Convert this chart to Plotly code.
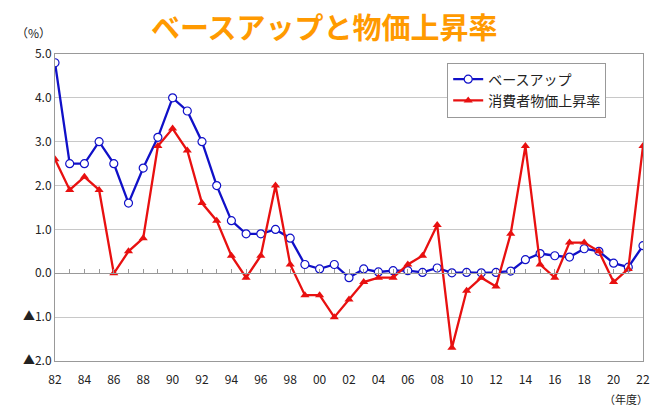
import plotly.graph_objects as go

years = list(range(1982, 2023))
base_up = [4.8, 2.5, 2.5, 3.0, 2.5, 1.6, 2.4, 3.1, 4.0, 3.7,
           3.0, 2.0, 1.2, 0.9, 0.9, 1.0, 0.8, 0.2, 0.1, 0.2,
           -0.1, 0.1, 0.03, 0.06, 0.06, 0.02, 0.12, 0.01, 0.02, 0.01,
           0.02, 0.05, 0.31, 0.45, 0.40, 0.37, 0.56, 0.50, 0.23, 0.14,
           0.63]
cpi = [2.6, 1.9, 2.2, 1.9, 0.0, 0.5, 0.8, 2.9, 3.3, 2.8,
       1.6, 1.2, 0.4, -0.1, 0.4, 2.0, 0.2, -0.5, -0.5, -1.0,
       -0.6, -0.2, -0.1, -0.1, 0.2, 0.4, 1.1, -1.7, -0.4, -0.1,
       -0.3, 0.9, 2.9, 0.2, -0.1, 0.7, 0.7, 0.5, -0.2, 0.1,
       2.9]
x_tickvals = list(range(1982, 2023, 2))
x_ticktext = ["82", "84", "86", "88", "90", "92", "94", "96", "98", "00", "02",
              "04", "06", "08", "10", "12", "14", "16", "18", "20", "22"]
y_tickvals = [5, 4, 3, 2, 1, 0, -1, -2]
y_ticktext = ["5.0", "4.0", "3.0", "2.0", "1.0", "0.0", "▲1.0", "▲2.0"]

FONT = "Noto Sans CJK JP"

fig = go.Figure()
fig.add_trace(go.Scatter(
    x=years, y=base_up, name="ベースアップ", mode="lines+markers",
    line=dict(color="#1010c8", width=2.3),
    marker=dict(symbol="circle", size=8, color="white",
                line=dict(color="#1010c8", width=1.2)),
))
fig.add_trace(go.Scatter(
    x=years, y=cpi, name="消費者物価上昇率", mode="lines+markers",
    line=dict(color="#e81010", width=2.3),
    marker=dict(symbol="triangle-up", size=8, color="#e81010"),
))
# invisible trace to hold the zero-line axis with yearly ticks
fig.add_trace(go.Scatter(x=[1982, 2022], y=[0, 0], xaxis="x2", mode="lines",
                         line=dict(color="rgba(0,0,0,0)"), showlegend=False,
                         hoverinfo="skip"))

fig.update_layout(
    width=657, height=407,
    paper_bgcolor="white", plot_bgcolor="white",
    margin=dict(l=55, r=14, t=54, b=46, autoexpand=False),
    font=dict(family=FONT, color="#222222", size=12),
    xaxis=dict(range=[1982, 2022], tickvals=x_tickvals, ticktext=x_ticktext,
               showgrid=False, zeroline=False, showline=True, mirror=True,
               linecolor="#999999", linewidth=1, ticks="", automargin=False,
               ticklabelstandoff=8,
               tickfont=dict(size=12, color="#222222")),
    xaxis2=dict(range=[1982, 2022], overlaying="x", anchor="free",
                position=2 / 7, side="bottom", showline=True,
                linecolor="#999999", linewidth=1, ticks="inside",
                ticklen=4, tickcolor="#999999", dtick=1, tick0=1982,
                showticklabels=False, showgrid=False, zeroline=False,
                automargin=False),
    yaxis=dict(range=[-2, 5], tickvals=y_tickvals, ticktext=y_ticktext,
               showgrid=True, gridcolor="#c8c8c8", gridwidth=1,
               zeroline=False, showline=True, mirror=True,
               linecolor="#999999", linewidth=1, ticks="", automargin=False,
               tickfont=dict(size=12, color="#222222")),
    legend=dict(x=0.667, y=0.972, xanchor="left", yanchor="top",
                bgcolor="white", bordercolor="#999999", borderwidth=1,
                font=dict(size=14, color="#222222"), tracegroupgap=0,
                itemwidth=30),
    showlegend=True,
)
fig.add_annotation(text="<b>ベースアップと物価上昇率</b>", xref="paper", yref="paper",
                   x=0.459, y=1.0 + 28 / 307, xanchor="center", yanchor="middle",
                   showarrow=False,
                   font=dict(family=FONT, size=29, color="#FF9A00"))
fig.add_annotation(text="（%）", xref="paper", yref="paper", x=-22 / 588,
                   y=(361 - 33) / 307, xanchor="center", yanchor="middle",
                   showarrow=False, font=dict(size=12, color="#222222"))
fig.add_annotation(text="（年度）", xref="paper", yref="paper", x=1.012,
                   y=-38 / 307, xanchor="right", yanchor="middle",
                   showarrow=False, font=dict(size=11, color="#222222"))

fig.write_html("out.html", config={"displayModeBar": False},
               post_script="document.body.style.margin='0px';"
                           "document.body.style.padding='0px';")
